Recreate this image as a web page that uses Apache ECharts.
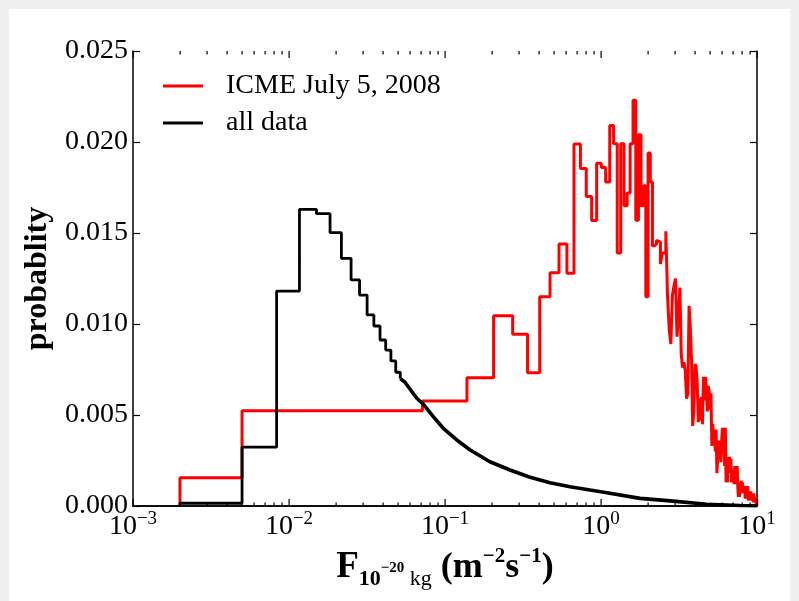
<!DOCTYPE html>
<html><head><meta charset="utf-8">
<script src="https://cdn.jsdelivr.net/npm/echarts@6/dist/echarts.min.js"></script>
<style>
html,body{margin:0;padding:0;background:#f0f0f0;width:799px;height:601px;overflow:hidden}
#bg{position:absolute;left:9px;top:9px;width:781px;height:592px;background:#fff}
#chart{position:absolute;left:0;top:0;width:799px;height:601px}
</style></head><body><div id="bg"></div><div id="chart"></div>
<script>
const FONT = '"Liberation Serif", "DejaVu Serif", serif';

// axis ticks
const xMin = 0.001, xMax = 10;
const yMin = 0, yMax = 0.025, yStep = 0.005;
const majorDecades = [0.001, 0.01, 0.1, 1, 10];
const minorMantissas = [2, 3, 4, 5, 6, 7, 8, 9];
const minorDecades = [0.001, 0.01, 0.1, 1];

// legend names
const seriesNames = ['ICME July 5, 2008', 'all data'];

// red histogram (ICME July 5, 2008): first drawn bin, then equal-width linear bins
const redFirstBin = [0.002, 0.005];
const redFirstValue = 0.00155;
const redBinStart = 0.005;
const redBinWidth = 0.06663;
const redValues = [
  0.00524, 0.00577, 0.00705, 0.01046, 0.00943, 0.00732, 0.0115, 0.01282, 0.0144, 0.01279,
  0.01989, 0.01855, 0.0170, 0.01568, 0.01883, 0.0186, 0.0178, 0.0209, 0.0199, 0.0139,
  0.0199, 0.0165, 0.0172, 0.0199, 0.0223, 0.0157, 0.0204, 0.0165, 0.0176, 0.0115,
  0.0194, 0.0178, 0.0143, 0.0144, 0.0146, 0.0145, 0.0133, 0.0139, 0.0139, 0.0151,
  0.0115, 0.0097, 0.0089, 0.0116, 0.0121, 0.0125, 0.0093, 0.0104, 0.0120, 0.0083,
  0.0076, 0.0079, 0.0074, 0.0059, 0.0062, 0.0110, 0.0098, 0.0081, 0.0044, 0.0052,
  0.0078, 0.0076, 0.0068, 0.0046, 0.0059, 0.0047, 0.0060, 0.0045, 0.0071, 0.0058,
  0.0071, 0.0063, 0.0052, 0.0066, 0.0063, 0.0053, 0.0062, 0.0033, 0.0045, 0.0036,
  0.0042, 0.0030, 0.0042, 0.0018, 0.0027, 0.0036, 0.0027, 0.0033, 0.0024, 0.0036,
  0.0043, 0.0029, 0.0038, 0.0022, 0.0043, 0.0013, 0.0020, 0.0013, 0.0027, 0.0018,
  0.0027, 0.0021, 0.0026, 0.0013, 0.0020, 0.0013, 0.0017, 0.0012, 0.0022, 0.0015,
  0.0021, 0.0012, 0.0022, 0.0010, 0.0005, 0.0013, 0.0005, 0.0013, 0.0009, 0.0014,
  0.0008, 0.0013, 0.0007, 0.0011, 0.0007, 0.0011, 0.0004, 0.0011, 0.0006, 0.0010,
  0.0005, 0.0011, 0.0003, 0.0007, 0.0003, 0.0005, 0.0003, 0.0008, 0.0003, 0.0007,
  0.0004, 0.0007, 0.0002, 0.0007, 0.0003, 0.0005, 0.0002, 0.0005, 0.0001, 0.0004
];

// black histogram (all data): leading bins as steps, fine-binned tail read as points
const blackEdges = [0.002, 0.005, 0.00833, 0.01167, 0.015, 0.01833, 0.02167, 0.025,
  0.02833, 0.03167, 0.035, 0.03833, 0.04167, 0.045, 0.04833, 0.05167];
const blackValues = [0.00015, 0.00323, 0.01181, 0.0163, 0.01606, 0.01502, 0.01361, 0.01242,
  0.01159, 0.0105, 0.00989, 0.00912, 0.00857, 0.00797, 0.00735];
const blackTailX = [0.05167, 0.0554, 0.0659, 0.0726, 0.0841, 0.0975, 0.119, 0.145, 0.194,
  0.261, 0.351, 0.471, 0.633, 0.85, 1.09, 1.78, 2.91, 4.76, 7.78, 10];
const blackTailY = [0.0070, 0.0068, 0.00592, 0.0056, 0.00491, 0.00427, 0.00363, 0.00308, 0.00243,
  0.00198, 0.00158, 0.00128, 0.00106, 0.00088, 0.00073, 0.00042, 0.00027, 0.0001, 0.00003, 0.00001];

function stepPoints(edges, values, closeEnd) {
  const pts = [[edges[0], 0]];
  for (let i = 0; i < values.length; i++) {
    pts.push([edges[i], values[i]]);
    pts.push([edges[i + 1], values[i]]);
  }
  if (closeEnd) pts.push([edges[edges.length - 1], 0]);
  return pts;
}

const redEdges = [redFirstBin[0], redFirstBin[1]];
for (let k = 1; k <= redValues.length; k++) redEdges.push(redBinStart + k * redBinWidth);
const redData = stepPoints(redEdges, [redFirstValue].concat(redValues), true);

const blackStepData = stepPoints(blackEdges, blackValues, false);
const blackTailData = blackTailX.map((x, i) => [x, blackTailY[i]]);
blackStepData.push(blackTailData[0]);

// x tick marks: [value, length in px]
const xTickMarks = [];
majorDecades.forEach(d => xTickMarks.push([d, 7]));
minorDecades.forEach(d => minorMantissas.forEach(m => xTickMarks.push([m * d, 3.5])));

function xLabel(v) {
  const e = Math.round(Math.log10(v));
  const s = String(e).replace('-', '\u2212');
  return '{b|10}{s|' + s + '}';
}

const tickStyle = {show: true, inside: true, length: 7, lineStyle: {color: '#000', width: 1.2}};
const lineStyleAxis = {show: true, lineStyle: {color: '#000', width: 1.5}};

const chart = echarts.init(document.getElementById('chart'), null, {renderer: 'canvas'});
chart.setOption({
  animation: false,
  backgroundColor: 'transparent',
  grid: {left: 133, top: 51, right: 42, bottom: 95, containLabel: false},
  legend: {
    data: seriesNames,
    orient: 'vertical',
    left: 158, top: 67,
    icon: 'rect', itemWidth: 40, itemHeight: 3, itemGap: 9,
    textStyle: {fontFamily: FONT, fontSize: 28, color: '#000', padding: [0, 0, 0, 18]}
  },
  xAxis: [{
    type: 'log', logBase: 10, min: xMin, max: xMax, position: 'bottom',
    axisLine: lineStyleAxis, axisTick: {show: false}, splitLine: {show: false},
    axisLabel: {
      margin: 4, formatter: xLabel,
      rich: {
        b: {fontFamily: FONT, fontSize: 28, lineHeight: 34, color: '#000'},
        s: {fontFamily: FONT, fontSize: 19, lineHeight: 20, verticalAlign: 'top', color: '#000'}
      }
    },
    name: '{F|F}{sub|10}{ss|\u221220}{kg| kg}{n| (m}{sup|\u22122}{n|s}{sup|\u22121}{n|)}',
    nameLocation: 'middle', nameGap: 15,
    nameTextStyle: {
      rich: {
        F: {fontFamily: FONT, fontSize: 37, fontWeight: 'bold', lineHeight: 44, color: '#000'},
        sub: {fontFamily: FONT, fontSize: 22, fontWeight: 'bold', lineHeight: 24, verticalAlign: 'bottom', color: '#000'},
        ss: {fontFamily: FONT, fontSize: 15, fontWeight: 'bold', lineHeight: 44, color: '#000'},
        kg: {fontFamily: FONT, fontSize: 22, lineHeight: 24, verticalAlign: 'bottom', color: '#000'},
        n: {fontFamily: FONT, fontSize: 36, fontWeight: 'bold', lineHeight: 44, color: '#000'},
        sup: {fontFamily: FONT, fontSize: 21, fontWeight: 'bold', lineHeight: 24, verticalAlign: 'top', color: '#000'}
      }
    }
  }, {
    type: 'log', logBase: 10, min: xMin, max: xMax, position: 'top',
    axisLine: lineStyleAxis, axisTick: {show: false}, axisLabel: {show: false}, splitLine: {show: false}
  }],
  yAxis: [{
    type: 'value', min: yMin, max: yMax, interval: yStep, position: 'left',
    axisLine: lineStyleAxis, axisTick: tickStyle, splitLine: {show: false},
    axisLabel: {margin: 5, fontFamily: FONT, fontSize: 28, color: '#000', formatter: v => v.toFixed(3)},
    name: 'probablity', nameLocation: 'middle', nameRotate: 90, nameGap: 78,
    nameTextStyle: {fontFamily: FONT, fontSize: 32, fontWeight: 'bold', color: '#000'}
  }, {
    type: 'value', min: yMin, max: yMax, interval: yStep, position: 'right',
    axisLine: lineStyleAxis, axisTick: tickStyle, axisLabel: {show: false}, splitLine: {show: false}
  }],
  series: [{
    name: seriesNames[0], type: 'line', data: redData, showSymbol: false, symbol: 'none',
    lineStyle: {color: '#ff0000', width: 3}, itemStyle: {color: '#ff0000'}, z: 3
  }, {
    name: seriesNames[1], type: 'line', data: blackStepData, showSymbol: false, symbol: 'none',
    lineStyle: {color: '#000000', width: 2.8}, itemStyle: {color: '#000000'}, z: 4
  }, {
    name: seriesNames[1], type: 'line', data: blackTailData, showSymbol: false, symbol: 'none',
    lineStyle: {color: '#000000', width: 3.6}, itemStyle: {color: '#000000'}, z: 4
  }, {
    type: 'custom', silent: true, clip: false, z: 10,
    data: xTickMarks.map(t => [t[0], 0, t[1]]),
    encode: {x: 0, y: 1},
    renderItem: function (params, api) {
      const v = api.value(0);
      const len = api.value(2);
      const b = api.coord([v, yMin]);
      const t = api.coord([v, yMax]);
      const x = Math.round(b[0]) - 0.5;
      return {type: 'group', children: [
        {type: 'rect', shape: {x: x, y: b[1] - len, width: 1.2, height: len}, style: {fill: '#000'}},
        {type: 'rect', shape: {x: x, y: t[1], width: 1.2, height: len}, style: {fill: '#000'}}
      ]};
    }
  }]
});
</script></body></html>
